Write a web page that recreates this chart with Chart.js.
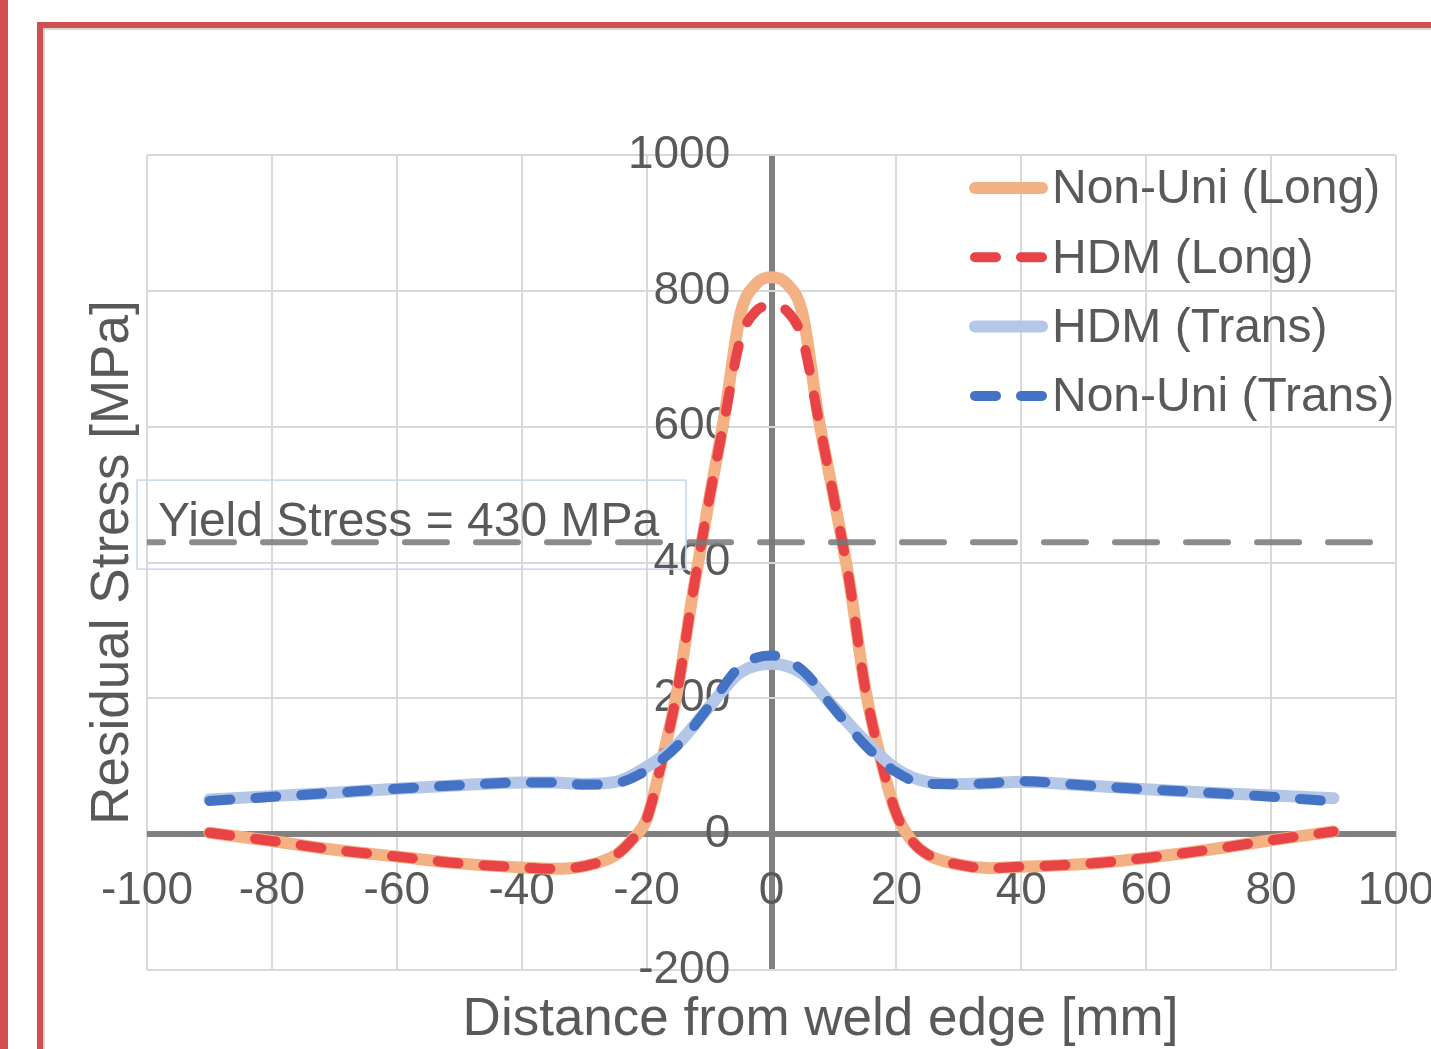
<!DOCTYPE html>
<html>
<head>
<meta charset="utf-8">
<script src="https://cdn.jsdelivr.net/npm/chart.js@4.4.1/dist/chart.umd.min.js"></script>
<style>
  html, body { margin: 0; padding: 0; background: #fff; overflow: hidden; }
  #strip { position: absolute; left: 0; top: 0; width: 8px; height: 1049px; background: #d24f51; }
  #frame { position: absolute; left: 37px; top: 22px; width: 1500px; height: 1100px;
           border-left: 6px solid #d24f51; border-top: 6px solid #d24f51;
           box-shadow: inset 2px 2px 0 #d6d6d6; }
  #chart { position: absolute; left: 0; top: 0; }
</style>
</head>
<body>
<div id="strip"></div>
<div id="frame"></div>
<canvas id="chart" width="1431" height="1049"></canvas>
<script>
// ===== data =====
const longX = [-90, -80, -70, -60, -50, -40, -35, -30, -25, -22.5, -20, -17.5, -15, -12.5, -10, -7.5, -5, -2.5,
               0, 2.5, 5, 7.5, 10, 12.5, 15, 17.5, 20, 22.5, 25, 30, 35, 40, 50, 60, 70, 80, 90];
const nonUniLong = [2, -10, -23, -33, -43, -49, -51, -47, -31, -10, 22, 110, 215, 360, 492, 618, 765, 810,
                    820, 810, 765, 615, 495, 370, 215, 110, 30, -10, -30, -45, -50, -48, -44, -35, -23, -9, 4];
const hdmLong = [2, -10, -23, -33, -43, -49, -51, -47, -31, -10, 22, 110, 215, 360, 492, 612, 728, 770,
                 778, 770, 728, 612, 495, 370, 215, 110, 30, -10, -30, -45, -50, -48, -44, -35, -23, -9, 4];

const transX = [-90, -80, -70, -60, -50, -40, -35, -30, -25, -20, -15, -10, -5,
                0, 5, 10, 15, 20, 25, 30, 35, 40, 50, 60, 70, 80, 90];
const hdmTrans = [51, 56, 61, 67, 72, 76, 76, 74, 77, 99, 133, 187, 238,
                  251, 236, 187, 137, 96, 77, 74, 75, 77, 72, 66, 61, 57, 53];
const nonUniTrans = [49, 55, 61, 67, 72, 76, 76, 73, 75, 94, 131, 188, 247,
                     263, 241, 185, 131, 91, 74, 74, 75, 78, 72, 66, 61, 55, 48];

const yieldStress = 430;
const yieldText = "Yield Stress = 430 MPa";
const seriesNames = ["Non-Uni (Long)", "HDM (Long)", "HDM (Trans)", "Non-Uni (Trans)"];
const xTicks = [-100, -80, -60, -40, -20, 0, 20, 40, 60, 80, 100];
const yTicks = [-200, 0, 200, 400, 600, 800, 1000];
const xTitle = "Distance from weld edge [mm]";
const yTitle = "Residual Stress [MPa]";

// ===== helpers =====
const FONT = "'Liberation Sans', Arial, sans-serif";
const TEXT = "#595959";
const pts = (xs, ys) => xs.map((x, i) => ({ x: x, y: ys[i] }));
const DASH = [21, 25];

function line(label, xs, ys, color, width, dash, order) {
    return {
        label: label,
        data: pts(xs, ys),
        borderColor: color,
        borderWidth: width,
        borderDash: dash,
        borderCapStyle: "round",
        borderJoinStyle: "round",
        pointRadius: 0,
        cubicInterpolationMode: "monotone",
        fill: false,
        order: order,
        xAxisID: "x",
        yAxisID: "y"
    };
}

// ===== legend drawn inside the plot =====
const insideLegend = {
    id: "insideLegend",
    afterDatasetsDraw(chart) {
        const ctx = chart.ctx;
        const area = chart.chartArea;
        const x0 = area.right - 421, x1 = area.right - 354;
        ctx.save();
        ctx.font = "48px " + FONT;
        ctx.textBaseline = "middle";
        ctx.textAlign = "left";
        seriesNames.forEach((name, i) => {
            const ds = chart.data.datasets[i];
            const y = area.top + 33 + i * 69.3;
            ctx.strokeStyle = ds.borderColor;
            ctx.lineWidth = ds.borderWidth;
            ctx.lineCap = "round";
            ctx.setLineDash(ds.borderDash || []);
            ctx.beginPath();
            ctx.moveTo(x0, y);
            ctx.lineTo(x1, y);
            ctx.stroke();
            ctx.setLineDash([]);
            ctx.fillStyle = TEXT;
            ctx.fillText(name, x1 + 10, y + 2);
        });
        ctx.restore();
    }
};

// ===== text box for the yield line =====
const yieldLabel = {
    id: "yieldLabel",
    afterDatasetsDraw(chart) {
        const ctx = chart.ctx;
        const area = chart.chartArea;
        const yPix = chart.scales.y.getPixelForValue(yieldStress);
        ctx.save();
        ctx.strokeStyle = "#c5d6f0";
        ctx.lineWidth = 1.5;
        ctx.strokeRect(area.left - 10, yPix - 62, 549, 89);
        ctx.font = "48px " + FONT;
        ctx.fillStyle = TEXT;
        ctx.textBaseline = "alphabetic";
        ctx.fillText(yieldText, area.left + 11, yPix - 6);
        ctx.restore();
    }
};

// shift the x title to where it sits in the figure
const titleShift = {
    id: "titleShift",
    afterLayout(chart) {
        chart.scales.xt.left += 98;
    }
};

const gridColor = c => (c.tick && c.tick.value === 0 ? "#808080" : "#d9d9d9");
const gridWidth = c => (c.tick && c.tick.value === 0 ? 6 : 2);
const noEdgePadding = s => { s.paddingLeft = 0; s.paddingRight = 0; s.paddingTop = 0; s.paddingBottom = 0; };

new Chart(document.getElementById("chart"), {
    type: "line",
    data: {
        datasets: [
            line(seriesNames[0], longX, nonUniLong, "#f4b183", 12, [], 4),
            line(seriesNames[1], longX, hdmLong, "#e84346", 10, DASH, 3),
            line(seriesNames[2], transX, hdmTrans, "#b4c7e7", 12, [], 2),
            line(seriesNames[3], transX, nonUniTrans, "#4472c4", 10, DASH, 1),
            {
                label: "Yield",
                data: [{ x: -100, y: yieldStress }, { x: 100, y: yieldStress }],
                borderColor: "rgba(120,120,120,0.85)",
                borderWidth: 6,
                borderDash: [42, 29],
                borderDashOffset: 26,
                borderCapStyle: "round",
                pointRadius: 0,
                order: 0,
                xAxisID: "x",
                yAxisID: "y"
            }
        ]
    },
    options: {
        responsive: false,
        animation: false,
        events: [],
        layout: { padding: { left: 60, right: 35, top: 155, bottom: 0 } },
        plugins: { legend: { display: false }, tooltip: { enabled: false } },
        scales: {
            x: {
                type: "linear",
                position: { y: 0 },
                min: -100,
                max: 100,
                afterBuildTicks: s => { s.ticks = xTicks.map(v => ({ value: v })); },
                afterFit: noEdgePadding,
                ticks: { autoSkip: false, maxRotation: 0, padding: 30, color: TEXT,
                         font: { family: FONT, size: 46 }, callback: v => String(v) },
                grid: { color: gridColor, lineWidth: gridWidth, drawTicks: false },
                border: { display: false }
            },
            y: {
                type: "linear",
                position: { x: -6.6 },
                min: -200,
                max: 1000,
                afterBuildTicks: s => { s.ticks = yTicks.map(v => ({ value: v })); },
                afterFit: noEdgePadding,
                ticks: { autoSkip: false, color: TEXT, font: { family: FONT, size: 46 },
                         callback: v => String(v) },
                grid: { color: gridColor, lineWidth: gridWidth, drawTicks: false },
                border: { display: false }
            },
            xt: {
                type: "linear",
                axis: "x",
                position: "bottom",
                ticks: { display: false },
                grid: { display: false, drawTicks: false },
                border: { display: false },
                title: { display: true, text: xTitle, color: TEXT,
                         font: { family: FONT, size: 53, lineHeight: 1 },
                         padding: { top: 23.5, bottom: 2.5 } }
            },
            yt: {
                type: "linear",
                axis: "y",
                position: "left",
                ticks: { display: false },
                grid: { display: false, drawTicks: false },
                border: { display: false },
                title: { display: true, text: yTitle, color: TEXT,
                         font: { family: FONT, size: 53, lineHeight: 1 },
                         padding: { top: 26.5, bottom: 7.5 } }
            }
        }
    },
    plugins: [insideLegend, yieldLabel, titleShift]
});
</script>
</body>
</html>
